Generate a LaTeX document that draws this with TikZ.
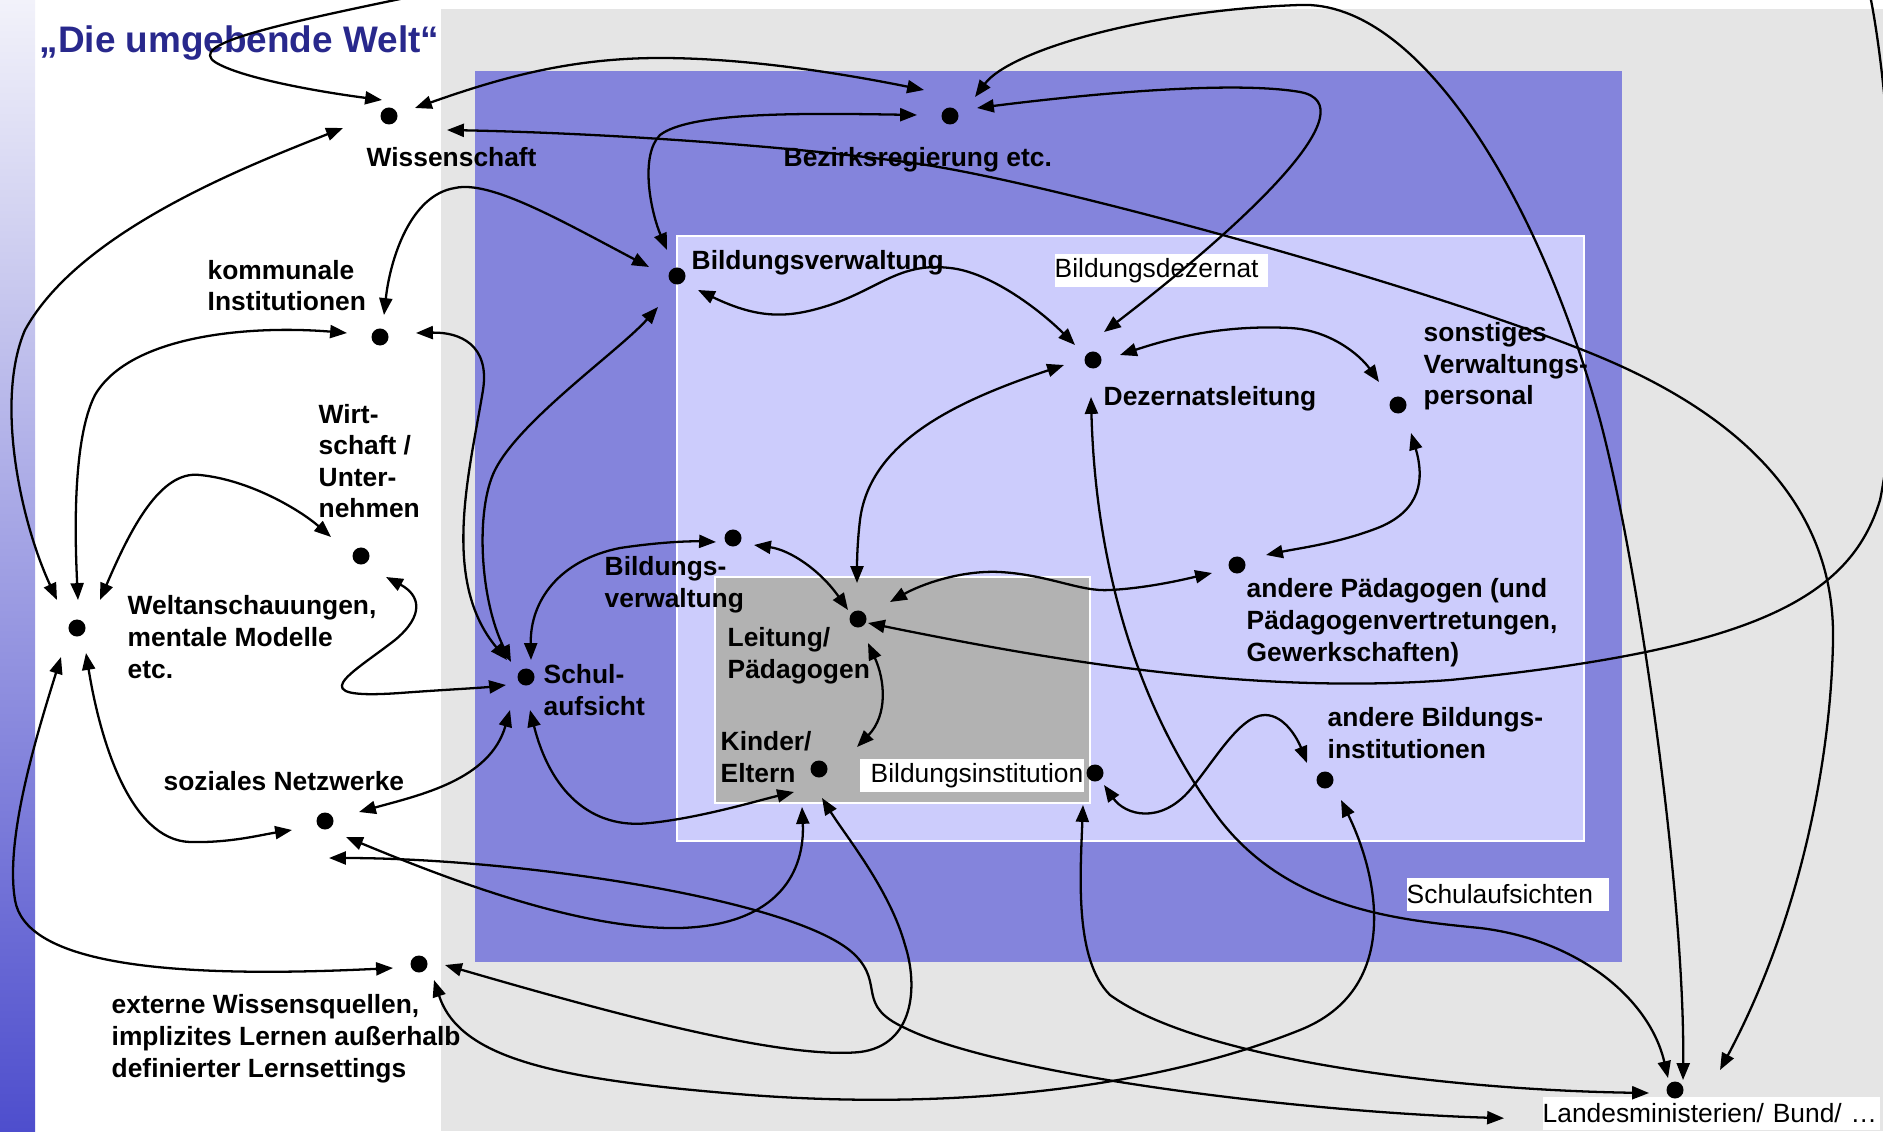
\documentclass[tikz,border=0pt]{standalone}
\usepackage{fontspec}
\setmainfont{Liberation Sans}
\usepackage{tikz}
\usetikzlibrary{calc}
\usetikzlibrary{arrows.meta}
\definecolor{schulblau}{RGB}{132,132,220}
\definecolor{dezernat}{RGB}{204,204,252}
\definecolor{institut}{RGB}{178,178,178}
\definecolor{umwelt}{RGB}{229,229,229}
\definecolor{titelblau}{RGB}{40,40,140}
\definecolor{randoben}{RGB}{242,242,250}
\definecolor{randmitte}{RGB}{185,185,232}
\definecolor{randunten}{RGB}{78,78,205}

\begin{document}
\begin{tikzpicture}[
x=0.01cm,y=-0.01cm,
MyDots/.style={circle,fill=black,inner sep=0pt,minimum size=0.17cm},
MyLabels/.style={font=\fontsize{7.5}{9}\selectfont\bfseries,inner sep=0pt,align=left,anchor=base west},
MyTags/.style={fill=white,font=\fontsize{7.5}{9}\selectfont,inner sep=0pt,minimum height=0.33cm,align=left,anchor=north west},
Links/.style={line width=0.65pt,>={Triangle[length=4.8pt,width=3.7pt]}}
]
\useasboundingbox (0,0) rectangle (1883,1131);

% Hintergrund
\shade[top color=randoben,middle color=randmitte,bottom color=randunten] (0,0) rectangle (35,1131);
\fill[umwelt] (441,9) rectangle (1883,1131);
\fill[schulblau] (475,71) rectangle (1622,962);
\filldraw[fill=dezernat,draw=white,line width=0.4pt] (677,236) rectangle (1584,841);
\filldraw[fill=institut,draw=white,line width=0.4pt] (715,577) rectangle (1090,803);

\node[MyTags,text width=2.13cm] (dezT) at (1054,253) {Bildungsdezernat};
\node[MyTags,text width=2.24cm] (biT) at (859,758) {\hspace*{0.11cm}Bildungsinstitution};
\node[MyTags,text width=2.02cm] (saT) at (1406,877) {Schulaufsichten};
\node[MyTags,text width=3.37cm] (lmT) at (1542,1096) {Landesministerien/ Bund/ …};

\node[font=\fontsize{10.5}{12}\selectfont\bfseries,text=titelblau,inner sep=0pt,anchor=base west] (title) at (39,53) {„Die umgebende Welt“};

% Beschriftungen (base = letzte Zeile)
\node[MyLabels] (wsT) at (366,167) {Wissenschaft};
\node[MyLabels] (bzT) at (783,167) {Bezirksregierung etc.};
\node[MyLabels] (bvoT) at (691,270) {Bildungsverwaltung};
\node[MyLabels] (kiT) at (207,311) {kommunale\\Institutionen};
\node[MyLabels] (dzT) at (1103,406) {Dezernatsleitung};
\node[MyLabels] (svT) at (1423,405) {sonstiges\\Verwaltungs-\\personal};
\node[MyLabels] (wuT) at (318,518) {Wirt-\\schaft /\\Unter-\\nehmen};
\node[MyLabels] (wmT) at (127,678) {Weltanschauungen,\\mentale Modelle\\etc.};
\node[MyLabels] (bvuT) at (604,607) {Bildungs-\\verwaltung};
\node[MyLabels] (lpT) at (727,678) {Leitung/\\Pädagogen};
\node[MyLabels] (apT) at (1246,661) {andere Pädagogen (und\\Pädagogenvertretungen,\\Gewerkschaften)};
\node[MyLabels] (saLT) at (543,715) {Schul-\\aufsicht};
\node[MyLabels] (keT) at (720,782) {Kinder/\\Eltern};
\node[MyLabels] (abT) at (1327,758) {andere Bildungs-\\institutionen};
\node[MyLabels] (snT) at (163,790) {soziales Netzwerke};
\node[MyLabels] (ewT) at (111,1077) {externe Wissensquellen,\\implizites Lernen außerhalb\\definierter Lernsettings};

% Punkte
\node[MyDots] (ws) at (389,116) {};
\node[MyDots] (bz) at (950,116) {};
\node[MyDots] (bvo) at (677,276) {};
\node[MyDots] (ki) at (380,337) {};
\node[MyDots] (dz) at (1093,360) {};
\node[MyDots] (sv) at (1398,405) {};
\node[MyDots] (wu) at (361,556) {};
\node[MyDots] (wm) at (77,628) {};
\node[MyDots] (bvu) at (733,538) {};
\node[MyDots] (lp) at (858,619) {};
\node[MyDots] (ap) at (1237,565) {};
\node[MyDots] (sa) at (526,677) {};
\node[MyDots] (ke) at (819,769) {};
\node[MyDots] (bi) at (1095,773) {};
\node[MyDots] (ab) at (1325,780) {};
\node[MyDots] (sn) at (325,821) {};
\node[MyDots] (ew) at (419,964) {};
\node[MyDots] (lm) at (1675,1090) {};

\coordinate (topL) at (405,-2);
\coordinate (topR) at (1870,-5);

% Verbindungen
\draw[Links,->] (topL) .. controls (260,28) and (190,45) .. (215,62) .. controls (240,78) and (320,92) .. ($(ws)+(-7,-16)$);
\draw[Links,<->] ($(ws)+(26,-8)$) .. controls (500,78) and (570,58) .. (660,58) .. controls (750,58) and (850,75) .. ($(bz)+(-26,-26)$);
\draw[Links,<->] ($(ws)+(58,14)$) .. controls (600,133) and (780,145) .. (913,163) .. controls (1046,181) and (1440,290) .. (1600,357) .. controls (1760,424) and (1835,520) .. (1833,640) .. controls (1831,760) and (1800,920) .. ($(lm)+(45,-20)$);
\draw[Links,<->] ($(bz)+(25,-19)$) .. controls (1010,50) and (1150,10) .. (1300,5) .. controls (1420,0) and (1540,200) .. (1600,420) .. controls (1640,570) and (1685,900) .. ($(lm)+(8,-10)$);
\draw[Links,<->] ($(bz)+(27,-8)$) .. controls (1080,95) and (1230,80) .. (1300,92) .. controls (1370,105) and (1250,220) .. ($(dz)+(11,-28)$);
\draw[Links,<->] ($(bz)+(-33,-1)$) .. controls (800,113) and (690,112) .. (660,135) .. controls (640,155) and (650,210) .. ($(bvo)+(-10,-26)$);
\draw[Links,<->] ($(bvo)+(-28,-9)$) .. controls (560,220) and (490,180) .. (455,188) .. controls (410,195) and (390,260) .. ($(ki)+(4,-22)$);
\draw[Links,<->] ($(bvo)+(21,14)$) .. controls (760,320) and (790,318) .. (830,305) .. controls (880,288) and (900,262) .. (950,268) .. controls (990,272) and (1040,310) .. ($(dz)+(-18,-15)$);
\draw[Links,<->] ($(bvo)+(-19,31)$) .. controls (620,350) and (520,420) .. (495,470) .. controls (475,510) and (480,600) .. ($(sa)+(-15,-15)$);
\draw[Links,<->] ($(ki)+(36,-4)$) .. controls (460,332) and (490,345) .. (483,390) .. controls (470,470) and (440,580) .. ($(sa)+(-19,-17)$);
\draw[Links,<->] ($(ki)+(-33,-4)$) .. controls (250,325) and (130,335) .. (95,395) .. controls (72,440) and (75,540) .. ($(wm)+(1,-28)$);
\draw[Links,<->] ($(ws)+(-46,12)$) .. controls (250,165) and (80,230) .. (25,330) .. controls (-5,400) and (20,520) .. ($(wm)+(-20,-28)$);
\draw[Links,<->] ($(wm)+(23,-28)$) .. controls (130,530) and (160,470) .. (200,475) .. controls (250,480) and (300,510) .. ($(wu)+(-30,-19)$);
\draw[Links,<->] ($(wu)+(25,21)$) .. controls (420,595) and (425,615) .. (395,640) .. controls (350,675) and (300,700) .. (400,693) .. controls (440,690) and (480,688) .. ($(sa)+(-20,8)$);
\draw[Links,<->] ($(wm)+(9,25)$) .. controls (100,740) and (130,840) .. (190,842) .. controls (230,843) and (260,835) .. ($(sn)+(-33,9)$);
\draw[Links,<->] ($(wm)+(-16,29)$) .. controls (35,740) and (5,840) .. (15,900) .. controls (25,960) and (150,980) .. ($(ew)+(-26,4)$);
\draw[Links,<->] ($(sa)+(-16,33)$) .. controls (490,780) and (420,795) .. ($(sn)+(34,-9)$);
\draw[Links,<->] ($(sa)+(4,33)$) .. controls (550,790) and (590,830) .. (650,823) .. controls (700,818) and (760,800) .. ($(ke)+(-25,23)$);
\draw[Links,<->] ($(sa)+(5,-17)$) .. controls (530,600) and (560,560) .. (620,548) .. controls (660,542) and (690,541) .. ($(bvu)+(-17,4)$);
\draw[Links,<->] ($(bvu)+(21,7)$) .. controls (790,550) and (820,570) .. ($(lp)+(-10,-9)$);
\draw[Links,<->] ($(dz)+(-29,5)$) .. controls (960,400) and (870,440) .. (860,520) .. controls (857,545) and (857,565) .. ($(lp)+(-1,-36)$);
\draw[Links,<->] ($(dz)+(27,-5)$) .. controls (1180,335) and (1230,325) .. (1290,328) .. controls (1330,330) and (1360,355) .. ($(sv)+(-19,-23)$);
\draw[Links,<->] ($(sv)+(13,28)$) .. controls (1425,480) and (1420,510) .. (1380,527) .. controls (1340,543) and (1300,548) .. ($(ap)+(29,-10)$);
\draw[Links,<->] ($(lp)+(32,-17)$) .. controls (920,585) and (960,570) .. (1000,572) .. controls (1050,575) and (1080,592) .. (1110,590) .. controls (1150,588) and (1190,578) .. ($(ap)+(-25,8)$);
\draw[Links,->] (topR) .. controls (1895,120) and (1905,380) .. (1880,500) .. controls (1850,600) and (1750,650) .. (1450,680) .. controls (1250,695) and (1050,660) .. ($(lp)+(10,4)$);
\draw[Links,<->] ($(lp)+(10,24)$) .. controls (885,680) and (888,715) .. ($(ke)+(38,-22)$);
\draw[Links,<->] ($(sn)+(21,16)$) .. controls (450,880) and (580,930) .. (680,928) .. controls (780,925) and (805,870) .. ($(ke)+(-17,38)$);
\draw[Links,<->] ($(sn)+(4,37)$) .. controls (520,858) and (800,900) .. (855,955) .. controls (885,985) and (855,1005) .. (905,1028) .. controls (1000,1075) and (1300,1112) .. ($(lmT.west)+(-38,5)$);
\draw[Links,<->] ($(ew)+(26,1)$) .. controls (600,1010) and (780,1060) .. (860,1052) .. controls (915,1045) and (918,985) .. (905,945) .. controls (890,890) and (845,835) .. ($(ke)+(3,29)$);
\draw[Links,<->] ($(ew)+(15,16)$) .. controls (460,1060) and (560,1080) .. (750,1095) .. controls (950,1110) and (1150,1090) .. (1300,1030) .. controls (1400,990) and (1380,880) .. ($(ab)+(16,20)$);
\draw[Links,<->] ($(bi)+(-12,32)$) .. controls (1080,880) and (1075,960) .. (1110,995) .. controls (1200,1060) and (1450,1090) .. ($(lm)+(-26,3)$);
\draw[Links,<->] ($(bi)+(9,12)$) .. controls (1125,815) and (1160,825) .. (1190,790) .. controls (1215,760) and (1240,715) .. (1265,715) .. controls (1285,715) and (1298,740) .. ($(ab)+(-18,-17)$);
\draw[Links,<->] ($(dz)+(-2,37)$) .. controls (1095,550) and (1130,700) .. (1220,820) .. controls (1290,910) and (1400,920) .. (1480,928) .. controls (1580,940) and (1650,1000) .. ($(lm)+(-7,-12)$);

\end{tikzpicture}
\end{document}
